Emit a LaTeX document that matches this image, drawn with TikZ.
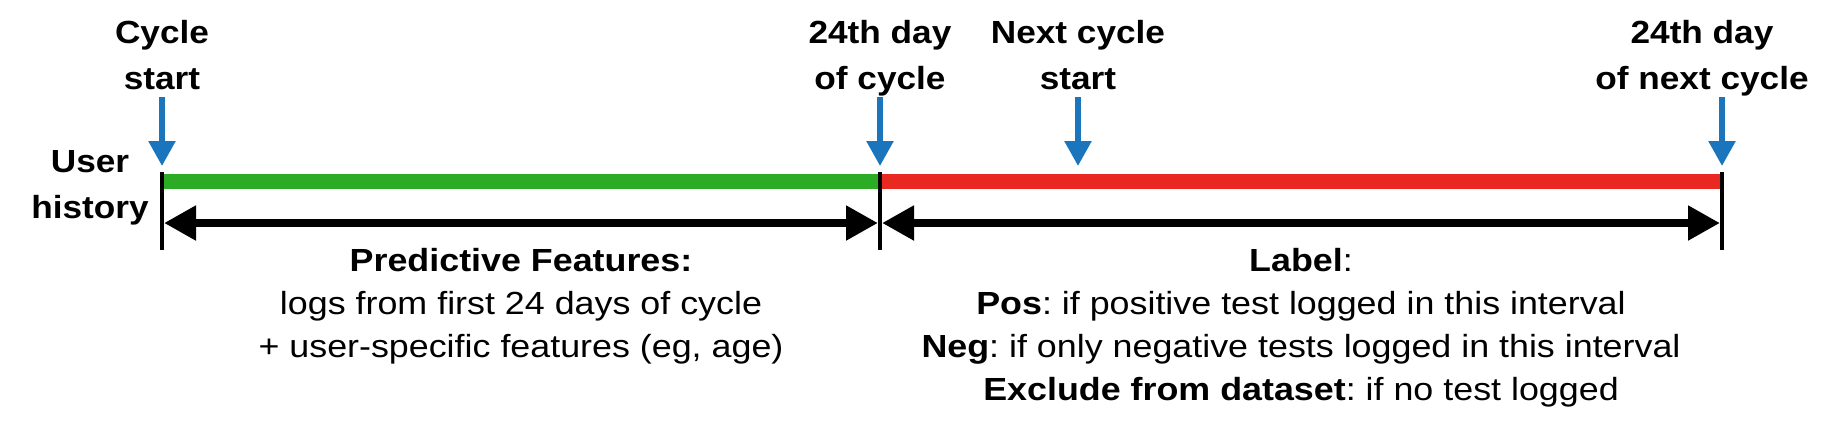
\documentclass[tikz,border=0pt]{standalone}
\usepackage{fontspec}
\setmainfont{Liberation Sans}
\newfontfamily\daysfont[FakeStretch=1.1]{Liberation Sans}
\newfontfamily\notesfont[FakeStretch=1.12]{Liberation Sans}
\usetikzlibrary{arrows.meta}
\definecolor{markblue}{RGB}{26,117,188}
\definecolor{featgreen}{RGB}{44,172,36}
\definecolor{labelred}{RGB}{233,40,34}
\frenchspacing

\begin{document}
\begin{tikzpicture}[x=0.5pt,y=-0.5pt,
  daylabel/.style={inner sep=0pt,anchor=north,align=center,font=\daysfont\bfseries\fontsize{16pt}{23pt}\selectfont},
  notes/.style={inner sep=0pt,anchor=north,align=center,font=\notesfont\fontsize{16pt}{21.5pt}\selectfont},
  pointer/.style={markblue,line width=2.75pt,-{Triangle[length=12.5pt,width=13pt]}},
  span/.style={line width=4pt,{Triangle[length=16pt,width=16.5pt]}-{Triangle[length=16pt,width=16.5pt]},shorten <=1pt,shorten >=1pt},
  tickline/.style={line width=2pt}]
\useasboundingbox (0,0) rectangle (1830,420);
% time points on the history line
\coordinate (cs) at (162,181); \coordinate (d24) at (880,181);
\coordinate (ns) at (1078,181); \coordinate (nd24) at (1722,181);
\draw[featgreen,line width=7.5pt] (cs) -- (d24);
\draw[labelred,line width=7.5pt] (d24) -- (nd24);
\draw[tickline] (cs) ++(0,-9) -- ++(0,78);
\draw[tickline] (d24) ++(0,-9) -- ++(0,78);
\draw[tickline] (nd24) ++(0,-9) -- ++(0,78);
% labels of the time points
\node[daylabel] (lcs) at (162,20) {Cycle\\start};
\node[daylabel] (ld24) at (880,20) {24th day\\of cycle};
\node[daylabel] (lns) at (1078,20) {Next cycle\\start};
\node[daylabel] (lnd24) at (1702,20) {24th day\\of next cycle};
\node[daylabel] (user) at (90,150) {User\\history};
\draw[pointer] (cs) ++(0,-84) -- ++(0,69);
\draw[pointer] (d24) ++(0,-84) -- ++(0,69);
\draw[pointer] (ns) ++(0,-84) -- ++(0,69);
\draw[pointer] (nd24) ++(0,-84) -- ++(0,69);
% intervals
\coordinate (a0) at (162,223); \coordinate (a1) at (880,223); \coordinate (a2) at (1722,223);
\draw[span] (a0) -- (a1);
\draw[span] (a1) -- (a2);
\node[notes] (feat) at (521,248) {\textbf{Predictive Features:}\\logs from first 24 days of cycle\\+ user-specific features (eg, age)};
\node[notes] (lab) at (1301,248) {\textbf{Label}:\\\textbf{Pos}: if positive test logged in this interval\\\textbf{Neg}: if only negative tests logged in this interval\\\textbf{Exclude from dataset}: if no test logged};
\end{tikzpicture}
\end{document}
